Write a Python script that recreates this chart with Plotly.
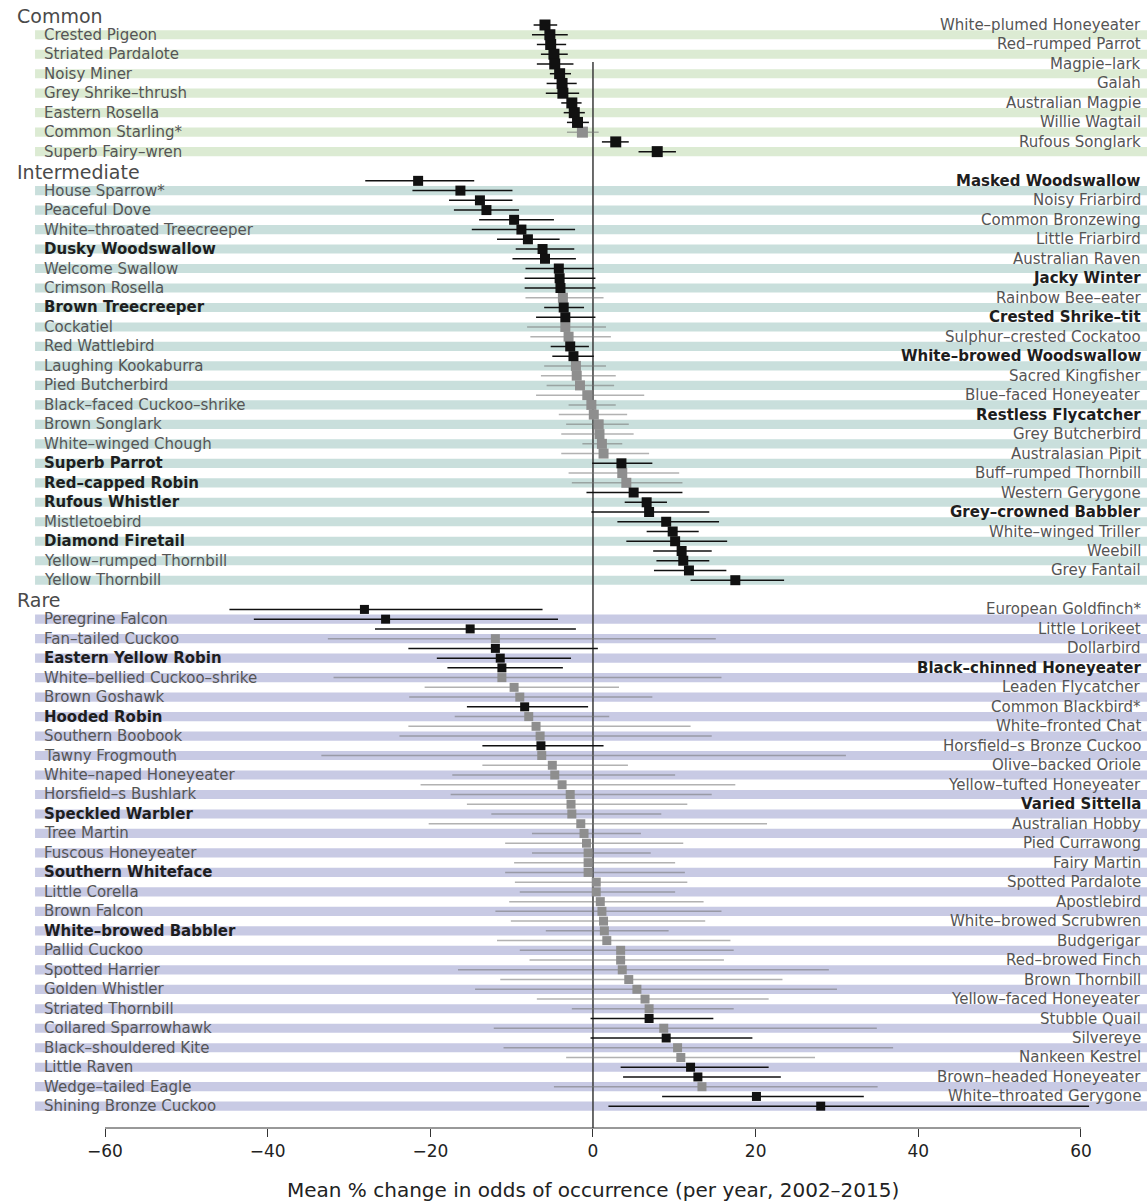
import plotly.graph_objects as go

# ---------------- data ----------------
section_titles = ["Common", "Intermediate", "Rare"]

common_names = ["White–plumed Honeyeater", "Crested Pigeon", "Red–rumped Parrot", "Striated Pardalote",
                "Magpie–lark", "Noisy Miner", "Galah", "Grey Shrike–thrush", "Australian Magpie",
                "Eastern Rosella", "Willie Wagtail", "Common Starling*", "Rufous Songlark", "Superb Fairy–wren"]
common_val = [-5.9, -5.3, -5.2, -4.8, -4.7, -4.1, -3.8, -3.7, -2.6, -2.3, -1.9, -1.3, 2.8, 7.9]
common_lo = [-7.3, -7.5, -6.9, -6.4, -6.9, -5.3, -5.7, -5.8, -3.9, -3.6, -3.2, -3.2, 1.1, 5.6]
common_hi = [-4.4, -3.1, -3.3, -3.1, -2.4, -2.7, -2.0, -1.7, -1.4, -1.0, -0.5, 0.7, 4.4, 10.2]
common_sig = [1, 1, 1, 1, 1, 1, 1, 1, 1, 1, 1, 0, 1, 1]
common_bold = [0] * 14

inter_names = ["Masked Woodswallow", "House Sparrow*", "Noisy Friarbird", "Peaceful Dove", "Common Bronzewing",
               "White–throated Treecreeper", "Little Friarbird", "Dusky Woodswallow", "Australian Raven",
               "Welcome Swallow", "Jacky Winter", "Crimson Rosella", "Rainbow Bee–eater", "Brown Treecreeper",
               "Crested Shrike–tit", "Cockatiel", "Sulphur–crested Cockatoo", "Red Wattlebird",
               "White–browed Woodswallow", "Laughing Kookaburra", "Sacred Kingfisher", "Pied Butcherbird",
               "Blue–faced Honeyeater", "Black–faced Cuckoo–shrike", "Restless Flycatcher", "Brown Songlark",
               "Grey Butcherbird", "White–winged Chough", "Australasian Pipit", "Superb Parrot",
               "Buff–rumped Thornbill", "Red–capped Robin", "Western Gerygone", "Rufous Whistler",
               "Grey–crowned Babbler", "Mistletoebird", "White–winged Triller", "Diamond Firetail", "Weebill",
               "Yellow–rumped Thornbill", "Grey Fantail", "Yellow Thornbill"]
inter_val = [-21.5, -16.3, -13.9, -13.1, -9.7, -8.8, -8.0, -6.2, -5.9, -4.2, -4.1, -4.0, -3.7, -3.6,
             -3.4, -3.4, -3.0, -2.8, -2.4, -2.1, -2.0, -1.6, -0.7, -0.2, 0.1, 0.7, 0.8, 1.1, 1.3, 3.5,
             3.6, 4.1, 5.0, 6.6, 6.9, 9.0, 9.8, 10.1, 10.9, 11.1, 11.8, 17.5]
inter_lo = [-28.0, -22.2, -17.7, -17.1, -14.0, -14.9, -11.8, -9.5, -9.9, -8.3, -8.4, -8.4, -8.3, -6.0,
            -7.0, -8.1, -7.7, -5.2, -5.0, -6.0, -6.4, -5.7, -7.0, -3.0, -4.2, -3.3, -3.9, -1.3, -3.9, -0.1,
            -3.0, -2.6, -0.8, 3.9, -0.2, 3.0, 6.6, 4.1, 7.4, 7.8, 7.5, 12.0]
inter_hi = [-14.6, -9.9, -9.9, -9.1, -4.8, -2.2, -4.1, -2.3, -2.1, 0.1, 0.3, 0.3, 1.3, -1.1,
            0.3, 1.6, 2.2, -0.5, 0.1, 1.6, 2.8, 2.6, 6.3, 2.8, 4.2, 4.4, 5.0, 3.6, 6.9, 7.3,
            10.6, 11.0, 11.0, 9.1, 14.3, 15.5, 13.0, 16.5, 14.6, 14.3, 16.4, 23.5]
inter_sig = [1, 1, 1, 1, 1, 1, 1, 1, 1, 1, 1, 1, 0, 1, 1, 0, 0, 1, 1, 0, 0, 0, 0, 0, 0, 0, 0, 0, 0, 1,
             0, 0, 1, 1, 1, 1, 1, 1, 1, 1, 1, 1]
inter_bold = [1, 0, 0, 0, 0, 0, 0, 1, 0, 0, 1, 0, 0, 1, 1, 0, 0, 0, 1, 0, 0, 0, 0, 0, 1, 0, 0, 0, 0, 1,
              0, 1, 0, 1, 1, 0, 0, 1, 0, 0, 0, 0]

rare_names = ["European Goldfinch*", "Peregrine Falcon", "Little Lorikeet", "Fan–tailed Cuckoo", "Dollarbird",
              "Eastern Yellow Robin", "Black–chinned Honeyeater", "White–bellied Cuckoo–shrike",
              "Leaden Flycatcher", "Brown Goshawk", "Common Blackbird*", "Hooded Robin", "White–fronted Chat",
              "Southern Boobook", "Horsfield–s Bronze Cuckoo", "Tawny Frogmouth", "Olive–backed Oriole",
              "White–naped Honeyeater", "Yellow–tufted Honeyeater", "Horsfield–s Bushlark", "Varied Sittella",
              "Speckled Warbler", "Australian Hobby", "Tree Martin", "Pied Currawong", "Fuscous Honeyeater",
              "Fairy Martin", "Southern Whiteface", "Spotted Pardalote", "Little Corella", "Apostlebird",
              "Brown Falcon", "White–browed Scrubwren", "White–browed Babbler", "Budgerigar", "Pallid Cuckoo",
              "Red–browed Finch", "Spotted Harrier", "Brown Thornbill", "Golden Whistler",
              "Yellow–faced Honeyeater", "Striated Thornbill", "Stubble Quail", "Collared Sparrowhawk",
              "Silvereye", "Black–shouldered Kite", "Nankeen Kestrel", "Little Raven",
              "Brown–headed Honeyeater", "Wedge–tailed Eagle", "White–throated Gerygone",
              "Shining Bronze Cuckoo"]
rare_val = [-28.1, -25.5, -15.1, -12.0, -12.0, -11.4, -11.2, -11.2, -9.7, -9.0, -8.4, -7.9, -7.0, -6.5,
            -6.4, -6.3, -5.0, -4.7, -3.8, -2.8, -2.7, -2.6, -1.5, -1.1, -0.8, -0.6, -0.6, -0.6, 0.4, 0.4,
            0.9, 1.1, 1.3, 1.4, 1.7, 3.4, 3.4, 3.6, 4.4, 5.4, 6.4, 6.9, 6.9, 8.7, 9.0, 10.4, 10.8, 12.0,
            12.9, 13.4, 20.1, 28.0]
rare_lo = [-44.7, -41.7, -26.8, -32.6, -22.7, -19.2, -17.9, -31.9, -20.7, -22.6, -15.5, -17.0, -22.7, -23.8,
           -13.6, -33.4, -13.6, -17.3, -21.2, -17.5, -15.5, -12.5, -20.2, -7.5, -10.8, -7.5, -9.7, -10.8,
           -9.6, -9.0, -10.3, -12.0, -10.1, -5.8, -11.8, -9.0, -7.8, -16.6, -11.4, -14.5, -6.9, -2.6, -0.3,
           -12.2, -0.3, -11.0, -3.3, 3.4, 3.7, -4.8, 8.5, 1.9]
rare_hi = [-6.2, -4.3, -2.1, 15.1, 0.6, -2.7, -3.7, 15.8, 3.2, 7.3, -0.6, 2.0, 12.0, 14.6,
           1.3, 31.1, 4.3, 10.1, 17.5, 14.6, 11.6, 8.4, 21.4, 5.9, 11.1, 7.1, 10.1, 11.3,
           11.6, 10.1, 13.6, 15.8, 13.8, 9.3, 16.9, 17.3, 16.1, 29.0, 23.3, 30.0, 21.6, 17.3, 14.8,
           34.9, 19.6, 36.9, 27.3, 21.6, 23.1, 35.0, 33.3, 61.0]
rare_sig = [1, 1, 1, 0, 1, 1, 1, 0, 0, 0, 1, 0, 0, 0, 1, 0, 0, 0, 0, 0, 0, 0, 0, 0, 0, 0,
            0, 0, 0, 0, 0, 0, 0, 0, 0, 0, 0, 0, 0, 0, 0, 0, 1, 0, 1, 0, 0, 1, 1, 0, 1, 1]
rare_bold = [0, 0, 0, 0, 0, 1, 1, 0, 0, 0, 0, 1, 0, 0, 0, 0, 0, 0, 0, 0, 1, 1, 0, 0, 0, 0,
             0, 1, 0, 0, 0, 0, 0, 1, 0, 0, 0, 0, 0, 0, 0, 0, 0, 0, 0, 0, 0, 0, 0, 0, 0, 0]

tick_vals = [-60, -40, -20, 0, 20, 40, 60]
x_title = "Mean % change in odds of occurrence (per year, 2002–2015)"

# ---------------- style / layout ----------------
band_colors = ["#dcebd3", "#c9dfdc", "#c8cae4"]
marker_sizes = [11, 10, 9]
FONT = "DejaVu Sans"
W, H = 1147, 1201
X_RANGE = [-72.91, 68.12]
Y_RANGE = [113.24, -2.567]
X_LEFT_LABEL, X_RIGHT_LABEL, X_HEADER, X_BAND0 = -67.8, 67.6, -71.1, -68.6

sections = [
    (common_names, common_val, common_lo, common_hi, common_sig, common_bold),
    (inter_names, inter_val, inter_lo, inter_hi, inter_sig, inter_bold),
    (rare_names, rare_val, rare_lo, rare_hi, rare_sig, rare_bold),
]

fig = go.Figure()
shapes = []
annotations = []

start = 0
for si, (names, val, lo, hi, sig, bold) in enumerate(sections):
    rows = [start + i for i in range(len(names))]
    # header
    annotations.append(dict(x=X_HEADER, y=start - 0.95, xref="x", yref="y", text=section_titles[si],
                            showarrow=False, xanchor="left", yanchor="middle",
                            font=dict(family=FONT, size=19, color="#4a4a4a")))
    for i, (nm, r) in enumerate(zip(names, rows)):
        left = (i % 2 == 1)
        if left:
            shapes.append(dict(type="rect", xref="x", yref="y", x0=X_BAND0, x1=X_RANGE[1] + 1,
                               y0=r - 0.47, y1=r + 0.47, fillcolor=band_colors[si],
                               line=dict(width=0), layer="below"))
        txt = f"<b>{nm}</b>" if bold[i] else nm
        annotations.append(dict(x=X_LEFT_LABEL if left else X_RIGHT_LABEL, y=r, xref="x", yref="y",
                                text=txt, showarrow=False, xanchor="left" if left else "right",
                                yanchor="middle",
                                font=dict(family=FONT, size=15, color="#1e1e1e" if bold[i] else "#555555")))
    for s_flag in (0, 1):
        idx = [i for i in range(len(names)) if sig[i] == s_flag]
        fig.add_trace(go.Scatter(
            x=[val[i] for i in idx], y=[rows[i] for i in idx], mode="markers",
            marker=dict(symbol="square", size=marker_sizes[si],
                        color="#111111" if s_flag else "#8e8e8e", line=dict(width=0)),
            error_x=dict(type="data", symmetric=False,
                         array=[hi[i] - val[i] for i in idx],
                         arrayminus=[val[i] - lo[i] for i in idx],
                         color="#111111" if s_flag else "rgba(115,115,115,0.55)",
                         thickness=1.5, width=0),
            showlegend=False, hoverinfo="skip"))
    start += len(names) + 2

# zero line and axis line
shapes.append(dict(type="line", xref="x", yref="y", x0=0, x1=0, y0=3.8, y1=Y_RANGE[0],
                   line=dict(color="#3a3a3a", width=1.5), layer="below"))
shapes.append(dict(type="line", xref="x", yref="paper", x0=tick_vals[0], x1=tick_vals[-1], y0=0, y1=0,
                   line=dict(color="#333333", width=1)))

annotations.append(dict(x=0, y=-0.055, xref="x", yref="paper", text=x_title, showarrow=False,
                        xanchor="center", yanchor="middle",
                        font=dict(family=FONT, size=20, color="#222222")))

fig.update_layout(
    width=W, height=H,
    margin=dict(l=0, r=0, t=0, b=73),
    plot_bgcolor="white", paper_bgcolor="white",
    shapes=shapes, annotations=annotations,
    hovermode=False,
    xaxis=dict(range=X_RANGE, tickvals=tick_vals, ticks="outside", ticklen=8, tickwidth=1,
               tickcolor="#333333", showline=False, showgrid=False, zeroline=False,
               tickfont=dict(family=FONT, size=17, color="#222222"), fixedrange=True),
    yaxis=dict(range=Y_RANGE, showticklabels=False, showgrid=False, zeroline=False, showline=False,
               ticks="", fixedrange=True),
)

fig.write_html("out.html", config={"displayModeBar": False},
               post_script="document.body.style.margin='0';document.body.style.overflow='hidden';")
